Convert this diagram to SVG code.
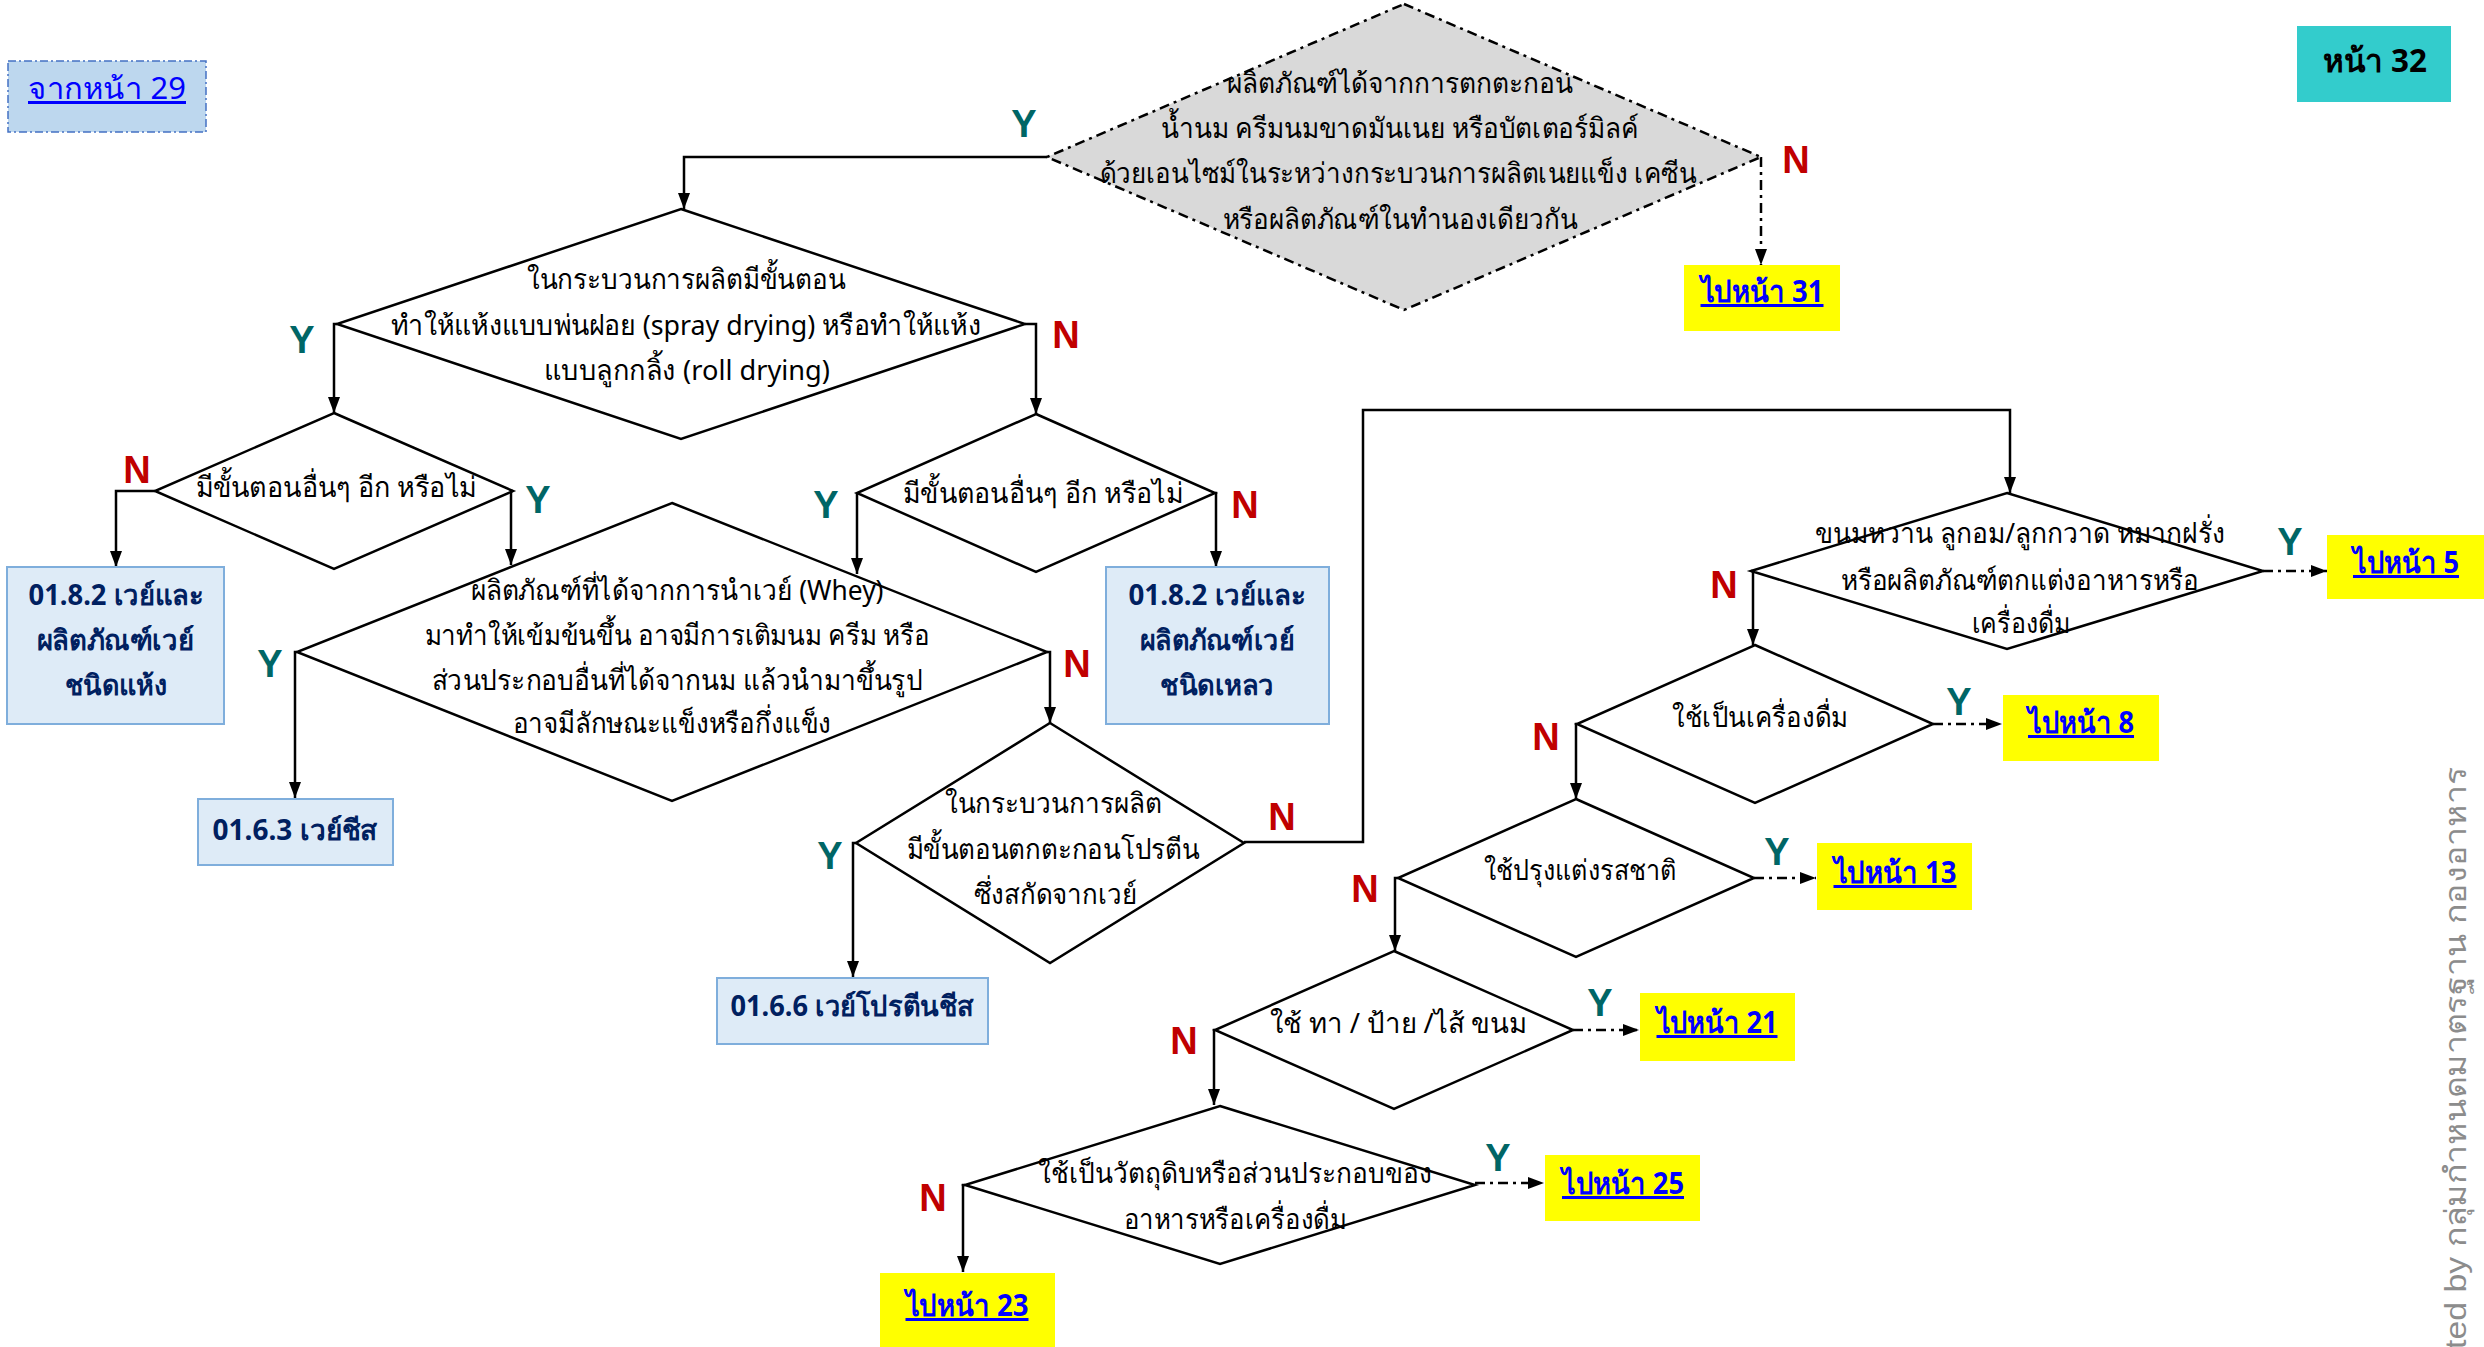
<svg xmlns="http://www.w3.org/2000/svg" width="2484" height="1347" viewBox="0 0 2484 1347">
  <style>
    .d { fill: #ffffff; stroke: #000000; stroke-width: 2.5; }
    .dg { fill: #D9D9D9; stroke: #000000; stroke-width: 2.5; stroke-dasharray: 10 5 3 5; }
    .c { fill: none; stroke: #000000; stroke-width: 2.5; marker-end: url(#arr); }
    .cd { fill: none; stroke: #000000; stroke-width: 2.5; stroke-dasharray: 10 5 3 5; marker-end: url(#arr); }
    .t { font-family: "Noto Sans", "DejaVu Sans", sans-serif; font-size: 28px; fill: #000000; text-anchor: middle; }
    .lbl { font-family: "Liberation Sans", Arial, sans-serif; font-size: 38px; font-weight: bold; text-anchor: middle; }
    .y { fill: #006666; }
    .n { fill: #C00000; }
    .box { fill: #DEEBF7; stroke: #7FAEDC; stroke-width: 2; }
    .bt { font-family: "Noto Sans", "DejaVu Sans", sans-serif; font-size: 28px; font-weight: bold; fill: #002060; text-anchor: middle; }
    .go { fill: #FFFF00; }
    .lk { font-family: "Noto Sans", "DejaVu Sans", sans-serif; font-size: 30px; font-weight: bold; fill: #0000FF; text-anchor: middle; text-decoration: underline; }
  </style>
  <defs>
    <marker id="arr" markerUnits="userSpaceOnUse" markerWidth="16" markerHeight="12" refX="16" refY="6" orient="auto">
      <path d="M0,0 L16,6 L0,12 z" fill="#000000"/>
    </marker>
  </defs>

  <!-- page references -->
  <g id="from-page-29">
    <rect x="8" y="61" width="198" height="71" fill="#BDD7EE" stroke="#4472C4" stroke-width="1.5" stroke-dasharray="8 3 2 3"/>
    <text class="lk" x="107" y="99" textLength="158" lengthAdjust="spacingAndGlyphs" style="font-weight:normal">จากหน้า 29</text>
  </g>
  <g id="page-32">
    <rect x="2297" y="26" width="154" height="76" fill="#33CCCC"/>
    <text class="t" x="2375" y="72" textLength="104" lengthAdjust="spacingAndGlyphs" style="font-weight:bold;font-size:32px">หน้า 32</text>
  </g>

  <!-- connectors -->
  <g id="connectors">
    <path class="c" d="M1047,157 H684 V209"/>
    <path class="cd" d="M1761,157 V265"/>
    <path class="c" d="M337,324 H334 V413"/>
    <path class="c" d="M1025,324 H1036 V414"/>
    <path class="c" d="M155,491 H116 V567"/>
    <path class="c" d="M513,491 H511 V565"/>
    <path class="c" d="M297,652 H295 V798"/>
    <path class="c" d="M1047,652 H1050 V723"/>
    <path class="c" d="M857,493 V574"/>
    <path class="c" d="M1215,493 H1216 V567"/>
    <path class="c" d="M856,843 H853 V977"/>
    <path class="c" d="M1244,842 H1363 V410 H2010 V493"/>
    <path class="cd" d="M2263,571 H2327"/>
    <path class="c" d="M1751,571 H1753 V645"/>
    <path class="cd" d="M1933,724 H2002"/>
    <path class="c" d="M1577,724 H1576 V799"/>
    <path class="cd" d="M1754,878 H1816"/>
    <path class="c" d="M1398,878 H1395 V951"/>
    <path class="cd" d="M1573,1030 H1639"/>
    <path class="c" d="M1215,1030 H1214 V1105"/>
    <path class="cd" d="M1475,1183 H1544"/>
    <path class="c" d="M965,1185 H963 V1272"/>

    <text class="lbl y" x="1024" y="137">Y</text>
    <text class="lbl n" x="1796" y="173">N</text>
    <text class="lbl y" x="302" y="353">Y</text>
    <text class="lbl n" x="1066" y="348">N</text>
    <text class="lbl n" x="137" y="483">N</text>
    <text class="lbl y" x="538" y="513">Y</text>
    <text class="lbl y" x="270" y="677">Y</text>
    <text class="lbl n" x="1077" y="677">N</text>
    <text class="lbl y" x="826" y="518">Y</text>
    <text class="lbl n" x="1245" y="518">N</text>
    <text class="lbl y" x="830" y="869">Y</text>
    <text class="lbl n" x="1282" y="830">N</text>
    <text class="lbl y" x="2290" y="555">Y</text>
    <text class="lbl n" x="1724" y="598">N</text>
    <text class="lbl y" x="1959" y="715">Y</text>
    <text class="lbl n" x="1546" y="750">N</text>
    <text class="lbl y" x="1777" y="865">Y</text>
    <text class="lbl n" x="1365" y="902">N</text>
    <text class="lbl y" x="1600" y="1016">Y</text>
    <text class="lbl n" x="1184" y="1054">N</text>
    <text class="lbl y" x="1498" y="1171">Y</text>
    <text class="lbl n" x="933" y="1211">N</text>
  </g>

  <!-- decisions -->
  <g id="q-casein">
    <polygon class="dg" points="1404,4 1761,157 1404,310 1047,157"/>
    <text class="t" x="1400" y="93" textLength="346" lengthAdjust="spacingAndGlyphs">ผลิตภัณฑ์ได้จากการตกตะกอน</text>
    <text class="t" x="1400" y="138" textLength="478" lengthAdjust="spacingAndGlyphs">น้ำนม ครีมนมขาดมันเนย หรือบัตเตอร์มิลค์</text>
    <text class="t" x="1398" y="183" textLength="597" lengthAdjust="spacingAndGlyphs">ด้วยเอนไซม์ในระหว่างกระบวนการผลิตเนยแข็ง เคซีน</text>
    <text class="t" x="1400" y="229" textLength="355" lengthAdjust="spacingAndGlyphs">หรือผลิตภัณฑ์ในทำนองเดียวกัน</text>
  </g>
  <g id="q-drying">
    <polygon class="d" points="681,209 1025,324 681,439 337,324"/>
    <text class="t" x="686" y="289" textLength="319" lengthAdjust="spacingAndGlyphs">ในกระบวนการผลิตมีขั้นตอน</text>
    <text class="t" x="686" y="335" textLength="590" lengthAdjust="spacingAndGlyphs">ทำให้แห้งแบบพ่นฝอย (spray drying) หรือทำให้แห้ง</text>
    <text class="t" x="687" y="380" textLength="286" lengthAdjust="spacingAndGlyphs">แบบลูกกลิ้ง (roll drying)</text>
  </g>
  <g id="q-other-steps-dry">
    <polygon class="d" points="334,413 513,491 334,569 155,491"/>
    <text class="t" x="336" y="497" textLength="281" lengthAdjust="spacingAndGlyphs">มีขั้นตอนอื่นๆ อีก หรือไม่</text>
  </g>
  <g id="q-other-steps-liquid">
    <polygon class="d" points="1036,414 1215,493 1036,572 857,493"/>
    <text class="t" x="1043" y="503" textLength="280" lengthAdjust="spacingAndGlyphs">มีขั้นตอนอื่นๆ อีก หรือไม่</text>
  </g>
  <g id="q-whey-concentrate">
    <polygon class="d" points="672,503 1047,652 672,801 297,652"/>
    <text class="t" x="677" y="600" textLength="413" lengthAdjust="spacingAndGlyphs">ผลิตภัณฑ์ที่ได้จากการนำเวย์ (Whey)</text>
    <text class="t" x="677" y="645" textLength="505" lengthAdjust="spacingAndGlyphs">มาทำให้เข้มข้นขึ้น อาจมีการเติมนม ครีม หรือ</text>
    <text class="t" x="677" y="690" textLength="491" lengthAdjust="spacingAndGlyphs">ส่วนประกอบอื่นที่ได้จากนม แล้วนำมาขึ้นรูป</text>
    <text class="t" x="672" y="733" textLength="319" lengthAdjust="spacingAndGlyphs">อาจมีลักษณะแข็งหรือกึ่งแข็ง</text>
  </g>
  <g id="q-protein">
    <polygon class="d" points="1050,723 1244,843 1050,963 856,843"/>
    <text class="t" x="1053" y="813" textLength="217" lengthAdjust="spacingAndGlyphs">ในกระบวนการผลิต</text>
    <text class="t" x="1053" y="859" textLength="293" lengthAdjust="spacingAndGlyphs">มีขั้นตอนตกตะกอนโปรตีน</text>
    <text class="t" x="1055" y="904" textLength="163" lengthAdjust="spacingAndGlyphs">ซึ่งสกัดจากเวย์</text>
  </g>
  <g id="q-confectionery">
    <polygon class="d" points="2007,493 2263,571 2007,649 1751,571"/>
    <text class="t" x="2020" y="543" textLength="410" lengthAdjust="spacingAndGlyphs">ขนมหวาน ลูกอม/ลูกกวาด หมากฝรั่ง</text>
    <text class="t" x="2020" y="590" textLength="358" lengthAdjust="spacingAndGlyphs">หรือผลิตภัณฑ์ตกแต่งอาหารหรือ</text>
    <text class="t" x="2021" y="633" textLength="99" lengthAdjust="spacingAndGlyphs">เครื่องดื่ม</text>
  </g>
  <g id="q-beverage">
    <polygon class="d" points="1755,645 1933,724 1755,803 1577,724"/>
    <text class="t" x="1760" y="727" textLength="176" lengthAdjust="spacingAndGlyphs">ใช้เป็นเครื่องดื่ม</text>
  </g>
  <g id="q-flavour">
    <polygon class="d" points="1576,799 1754,878 1576,957 1398,878"/>
    <text class="t" x="1580" y="880" textLength="193" lengthAdjust="spacingAndGlyphs">ใช้ปรุงแต่งรสชาติ</text>
  </g>
  <g id="q-spread">
    <polygon class="d" points="1394,951 1573,1030 1394,1109 1215,1030"/>
    <text class="t" x="1398" y="1033" textLength="257" lengthAdjust="spacingAndGlyphs">ใช้ ทา / ป้าย /ไส้ ขนม</text>
  </g>
  <g id="q-ingredient">
    <polygon class="d" points="1220,1106 1475,1185 1220,1264 965,1185"/>
    <text class="t" x="1235" y="1183" textLength="394" lengthAdjust="spacingAndGlyphs">ใช้เป็นวัตถุดิบหรือส่วนประกอบของ</text>
    <text class="t" x="1235" y="1229" textLength="223" lengthAdjust="spacingAndGlyphs">อาหารหรือเครื่องดื่ม</text>
  </g>

  <!-- category results -->
  <g id="cat-01-8-2-dry">
    <rect class="box" x="7" y="567" width="217" height="157"/>
    <text class="bt" x="116" y="605" textLength="175" lengthAdjust="spacingAndGlyphs">01.8.2 เวย์และ</text>
    <text class="bt" x="115" y="650" textLength="157" lengthAdjust="spacingAndGlyphs">ผลิตภัณฑ์เวย์</text>
    <text class="bt" x="116" y="695" textLength="102" lengthAdjust="spacingAndGlyphs">ชนิดแห้ง</text>
  </g>
  <g id="cat-01-8-2-liquid">
    <rect class="box" x="1106" y="567" width="223" height="157"/>
    <text class="bt" x="1217" y="605" textLength="177" lengthAdjust="spacingAndGlyphs">01.8.2 เวย์และ</text>
    <text class="bt" x="1217" y="650" textLength="154" lengthAdjust="spacingAndGlyphs">ผลิตภัณฑ์เวย์</text>
    <text class="bt" x="1217" y="695" textLength="114" lengthAdjust="spacingAndGlyphs">ชนิดเหลว</text>
  </g>
  <g id="cat-01-6-3">
    <rect class="box" x="198" y="799" width="195" height="66"/>
    <text class="bt" x="295" y="840" textLength="165" lengthAdjust="spacingAndGlyphs">01.6.3 เวย์ชีส</text>
  </g>
  <g id="cat-01-6-6">
    <rect class="box" x="717" y="978" width="271" height="66"/>
    <text class="bt" x="852" y="1016" textLength="243" lengthAdjust="spacingAndGlyphs">01.6.6 เวย์โปรตีนชีส</text>
  </g>

  <!-- go-to-page links -->
  <g id="go-31">
    <rect class="go" x="1684" y="265" width="156" height="66"/>
    <text class="lk" x="1762" y="302" textLength="123" lengthAdjust="spacingAndGlyphs">ไปหน้า 31</text>
  </g>
  <g id="go-5">
    <rect class="go" x="2327" y="535" width="157" height="64"/>
    <text class="lk" x="2406" y="573" textLength="106" lengthAdjust="spacingAndGlyphs">ไปหน้า 5</text>
  </g>
  <g id="go-8">
    <rect class="go" x="2003" y="695" width="156" height="66"/>
    <text class="lk" x="2081" y="733" textLength="106" lengthAdjust="spacingAndGlyphs">ไปหน้า 8</text>
  </g>
  <g id="go-13">
    <rect class="go" x="1817" y="843" width="155" height="67"/>
    <text class="lk" x="1895" y="883" textLength="123" lengthAdjust="spacingAndGlyphs">ไปหน้า 13</text>
  </g>
  <g id="go-21">
    <rect class="go" x="1640" y="993" width="155" height="68"/>
    <text class="lk" x="1717" y="1033" textLength="121" lengthAdjust="spacingAndGlyphs">ไปหน้า 21</text>
  </g>
  <g id="go-25">
    <rect class="go" x="1545" y="1155" width="155" height="66"/>
    <text class="lk" x="1623" y="1194" textLength="122" lengthAdjust="spacingAndGlyphs">ไปหน้า 25</text>
  </g>
  <g id="go-23">
    <rect class="go" x="880" y="1273" width="175" height="74"/>
    <text class="lk" x="967" y="1316" textLength="123" lengthAdjust="spacingAndGlyphs">ไปหน้า 23</text>
  </g>

  <!-- credit line along the right edge -->
  <text x="0" y="0" transform="translate(2466,1349) rotate(-90)" font-family="'Liberation Sans', 'Noto Sans', sans-serif" font-size="30" fill="#8C8C8C" textLength="582" lengthAdjust="spacingAndGlyphs">ted by กลุ่มกำหนดมาตรฐาน กองอาหาร</text>
</svg>
